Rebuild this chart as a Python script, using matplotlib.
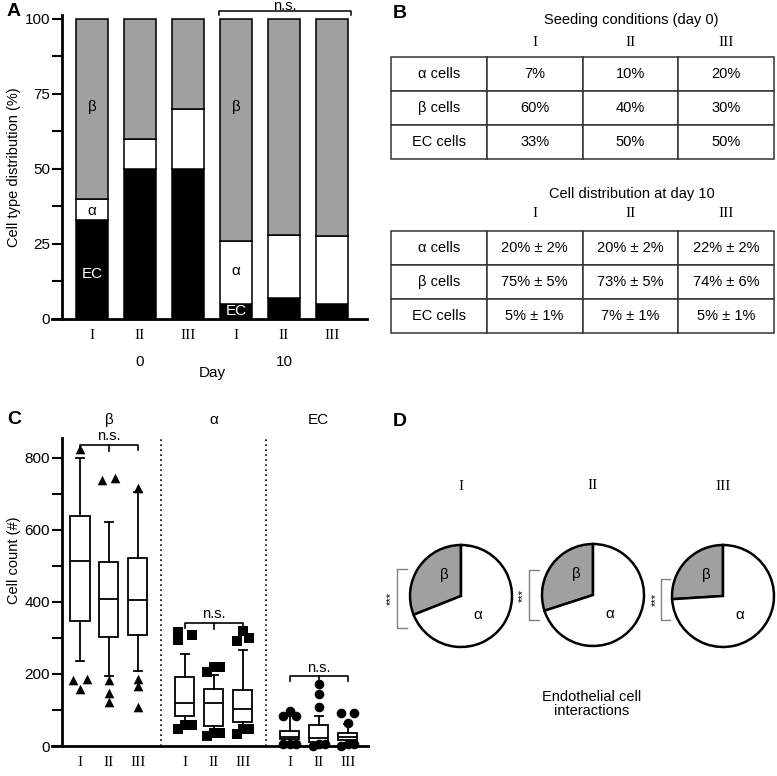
import numpy as np
import matplotlib
matplotlib.use('Agg')
import matplotlib.pyplot as plt
from matplotlib import transforms

plt.rcParams['font.family'] = ['Liberation Sans', 'DejaVu Sans']
SERIF = 'Liberation Serif'

W, H = 777, 776

# DADOS - painel A (distribuicao %)
cond_labels = ['I', 'II', 'III']
day_labels = ['0', '10']
ec_pct = [33, 50, 50, 5, 7, 5]
alpha_pct = [7, 10, 20, 21, 21, 22.5]
beta_pct = [60, 40, 30, 74, 72, 72.5]

# DADOS - painel B (tabelas)
row_labels = ['α cells', 'β cells', 'EC cells']
seeding_vals = [['7%', '10%', '20%'],
                ['60%', '40%', '30%'],
                ['33%', '50%', '50%']]
day10_vals = [['20% ± 2%', '20% ± 2%', '22% ± 2%'],
              ['75% ± 5%', '73% ± 5%', '74% ± 6%'],
              ['5% ± 1%', '7% ± 1%', '5% ± 1%']]

# DADOS - painel C (boxplots de contagem)
group_names = ['β', 'α', 'EC']
beta_med = [514, 408, 406]
beta_q1 = [348, 302, 307]
beta_q3 = [638, 510, 522]
beta_lo = [236, 195, 207]
beta_hi = [800, 621, 705]
beta_out = [[825, 183, 157, 186], [739, 744, 183, 148, 123], [715, 185, 167, 109]]

alpha_med = [118, 118, 104]
alpha_q1 = [82, 55, 66]
alpha_q3 = [192, 157, 156]
alpha_lo = [64, 40, 58]
alpha_hi = [256, 196, 267]
alpha_out = [[316, 293, 308, 47, 58, 58], [206, 220, 220, 28, 35, 35], [292, 318, 299, 33, 46, 46]]

ec_med = [26, 21, 26]
ec_q1 = [19, 12, 17]
ec_q3 = [43, 58, 35]
ec_lo = [8, 6, 7]
ec_hi = [82, 83, 60]
ec_out = [[82, 97, 82, 6, 6, 6], [172, 143, 109, 0, 6, 6], [91, 91, 65, 0, 6, 6]]

# DADOS - painel D (interacoes EC)
beta_frac = [0.31, 0.30, 0.26]

# deslocamento horizontal dos outliers (so layout)
beta_dx = [[0, -0.23, 0, 0.23], [-0.25, 0.21, 0, 0, 0], [0, 0, 0, 0]]
alpha_dx = [[-0.23, -0.23, 0.23, -0.23, 0, 0.23], [-0.25, 0, 0.21, -0.25, 0, 0.21],
            [-0.21, 0, 0.23, -0.21, 0, 0.23]]
ec_dx = [[-0.23, 0, 0.23, -0.23, 0, 0.23], [0, 0, 0, -0.2, 0, 0.23], [-0.23, 0.23, 0, -0.23, 0, 0.23]]

GRAY = '#a0a0a0'


def px_rect(x0, y0, x1, y1):
    return [x0 / W, 1 - y1 / H, (x1 - x0) / W, (y1 - y0) / H]


def ftext(x, y, s, **kw):
    kw.setdefault('ha', 'center')
    kw.setdefault('va', 'center')
    fig.text(x / W, 1 - y / H, s, **kw)


fig = plt.figure(figsize=(W / 100, H / 100), dpi=100)

# PAINEL A
axA = fig.add_axes(px_rect(52, 15, 367, 319))
xb = np.arange(len(ec_pct))
ec = np.array(ec_pct)
al = np.array(alpha_pct)
be = np.array(beta_pct)
axA.bar(xb, ec, width=0.667, color='black', edgecolor='black', linewidth=1.1)
axA.bar(xb, al, bottom=ec, width=0.667, color='white', edgecolor='black', linewidth=1.1)
axA.bar(xb, be, bottom=ec + al, width=0.667, color=GRAY, edgecolor='black', linewidth=1.1)
axA.set_xlim(-0.833, 5.729)
axA.set_ylim(0, 101.3)
axA.spines['top'].set_visible(False)
axA.spines['right'].set_visible(False)
axA.spines['left'].set_position(('data', -0.625))
axA.spines['left'].set_linewidth(2)
axA.spines['bottom'].set_linewidth(2)
axA.set_yticks([0, 25, 50, 75, 100])
axA.set_yticks([12.5, 37.5, 62.5, 87.5], minor=True)
axA.tick_params(axis='y', which='both', direction='out', length=7, width=1.5, labelsize=11, pad=1.5)
axA.set_xticks(xb)
axA.set_xticklabels(cond_labels * 2, family=SERIF, fontsize=11)
axA.tick_params(axis='x', length=0, pad=7.5)
axA.set_ylabel('Cell type distribution (%)', fontsize=10.5)
axA.yaxis.set_label_coords(-0.098, 0.5)

axA.text(0, 70.7, 'β', ha='center', va='center', fontsize=11)
axA.text(0, 36, 'α', ha='center', va='center', fontsize=11)
axA.text(0, 15, 'EC', ha='center', va='center', fontsize=11, color='white')
axA.text(3, 70.7, 'β', ha='center', va='center', fontsize=11)
axA.text(3, 16, 'α', ha='center', va='center', fontsize=11)
axA.text(3, 2.6, 'EC', ha='center', va='center', fontsize=11, color='white')

# colchete n.s. do dia 10
axA.plot([2.646, 2.646, 5.396, 5.396], [101.3, 102.6, 102.6, 101.3], color='black', lw=1.1, clip_on=False)
ftext(285, 6, 'n.s.', fontsize=10.5)
ftext(140, 362, day_labels[0], fontsize=11)
ftext(284, 362, day_labels[1], fontsize=11)
ftext(212, 373, 'Day', fontsize=11)

# PAINEL B - tabelas
def draw_table(rect, title, cells, y_title, y_roman):
    ax = fig.add_axes(px_rect(*rect))
    ax.axis('off')
    rows = [[lab] + vals for lab, vals in zip(row_labels, cells)]
    tb = ax.table(cellText=rows, cellLoc='center', bbox=[0, 0, 1, 1])
    tb.auto_set_font_size(False)
    tb.set_fontsize(10.5)
    for c in tb.get_celld().values():
        c.set_edgecolor('#333333')
        c.set_linewidth(1.1)
    ax.text(0.628, y_title, title, ha='center', va='center', transform=ax.transAxes, fontsize=10.5)
    for j, r in enumerate(cond_labels):
        ax.text(0.375 + 0.25 * j, y_roman, r, ha='center', va='center', transform=ax.transAxes,
                family=SERIF, fontsize=11)


draw_table((391, 57, 774, 159), 'Seeding conditions (day 0)', seeding_vals, 1.363, 1.147)
draw_table((391, 231, 774, 333), 'Cell distribution at day 10', day10_vals, 1.363, 1.167)

# PAINEL C
axC = fig.add_axes(px_rect(52, 438, 368, 746))
grp_step = 3.63
pos = [g * grp_step + i for g in range(3) for i in range(3)]
meds = beta_med + alpha_med + ec_med
q1s = beta_q1 + alpha_q1 + ec_q1
q3s = beta_q3 + alpha_q3 + ec_q3
los = beta_lo + alpha_lo + ec_lo
his = beta_hi + alpha_hi + ec_hi
stats = [dict(med=m, q1=a, q3=b, whislo=lo, whishi=hi, fliers=[])
         for m, a, b, lo, hi in zip(meds, q1s, q3s, los, his)]
lp = dict(color='black', linewidth=1.3)
axC.bxp(stats, positions=pos, widths=0.66, capwidths=0.28, showfliers=False, patch_artist=True,
        boxprops=dict(facecolor='white', edgecolor='black', linewidth=1.3),
        whiskerprops=lp, capprops=lp, medianprops=lp, manage_ticks=False)

markers = ['^', 's', 'o']
for g, (outs, dxs) in enumerate([(beta_out, beta_dx), (alpha_out, alpha_dx), (ec_out, ec_dx)]):
    for i in range(3):
        xs = [pos[g * 3 + i] + d for d in dxs[i]]
        axC.scatter(xs, outs[i], marker=markers[g], s=48, color='black', zorder=5, clip_on=False,
                    linewidths=0)

axC.set_xlim(-0.969, 9.965)
axC.set_ylim(0, 855)
for xv in [(pos[2] + pos[3]) / 2, (pos[5] + pos[6]) / 2]:
    axC.plot([xv, xv], [0, 855], color='black', lw=1.2, ls=(0, (1, 2)))
axC.spines['top'].set_visible(False)
axC.spines['right'].set_visible(False)
axC.spines['left'].set_position(('data', -0.623))
axC.spines['left'].set_linewidth(2)
axC.spines['bottom'].set_linewidth(2)
axC.set_yticks([0, 200, 400, 600, 800])
axC.set_yticks([100, 300, 500, 700], minor=True)
axC.tick_params(axis='y', which='both', direction='out', length=7, width=1.5, labelsize=11, pad=1.5)
axC.set_xticks(pos)
axC.set_xticklabels(cond_labels * 3, family=SERIF, fontsize=11)
axC.tick_params(axis='x', length=0, pad=7.5)
axC.set_ylabel('Cell count (#)', fontsize=10.5)
axC.yaxis.set_label_coords(-0.098, 0.604)

trC = transforms.blended_transform_factory(axC.transData, axC.transAxes)
for g, name in enumerate(group_names):
    axC.text(pos[g * 3 + 1], 1.058, name, transform=trC, ha='center', va='center', fontsize=11)

# colchetes n.s.
for g, ytop in enumerate([836, 342, 194]):
    x0, x1 = pos[g * 3], pos[g * 3 + 2]
    xm = pos[g * 3 + 1]
    axC.plot([x0, x0, x1, x1], [ytop - 14, ytop, ytop, ytop - 14], color='black', lw=1.2, clip_on=False)
    axC.plot([xm, xm], [ytop, ytop - 16], color='black', lw=1.2, clip_on=False)
    axC.text(xm, ytop + 4, 'n.s.', ha='center', va='bottom', fontsize=10.5)

# PAINEL D - pizzas
pie_cx = [461, 593, 723]
pie_cy = [596, 595, 596]
brk = [(-1.25, -1.065, 0.52, -0.63, -1.37), (-1.25, -1.06, 0.49, -0.50, -1.37),
       (-1.22, -1.04, 0.33, -0.47, -1.31)]
for k in range(3):
    cx, cy = pie_cx[k], pie_cy[k]
    ax = fig.add_axes(px_rect(cx - 77, cy - 77, cx + 77, cy + 77))
    ax.pie([beta_frac[k], 1 - beta_frac[k]], colors=[GRAY, 'white'], startangle=90, counterclock=True,
           radius=1, wedgeprops=dict(edgecolor='black', linewidth=1.8))
    ax.set_xlim(-1.51, 1.51)
    ax.set_ylim(-1.51, 1.51)
    ax.set_aspect('equal')
    ax.axis('off')
    ax.text(-0.32, 0.42, 'β', ha='center', va='center', fontsize=11)
    ax.text(0.32, -0.37, 'α', ha='center', va='center', fontsize=11)
    ax.text(0, 2.14, cond_labels[k], ha='center', va='center', family=SERIF, fontsize=11, clip_on=False)
    bx, bt, byt, byb, sx = brk[k]
    ax.plot([bt, bx, bx, bt], [byt, byt, byb, byb], color='#808080', lw=1, clip_on=False)
    ax.text(sx, (byt + byb) / 2, '***', rotation=90, ha='center', va='center', fontsize=8, clip_on=False)

ftext(592, 704, 'Endothelial cell\ninteractions', fontsize=10.5, linespacing=1.05)

# letras dos paineis
ftext(14, 12, 'A', fontsize=14, fontweight='bold')
ftext(400, 14, 'B', fontsize=14, fontweight='bold')
ftext(14, 420, 'C', fontsize=14, fontweight='bold')
ftext(400, 422, 'D', fontsize=14, fontweight='bold')

fig.savefig('out.png', dpi=100)
